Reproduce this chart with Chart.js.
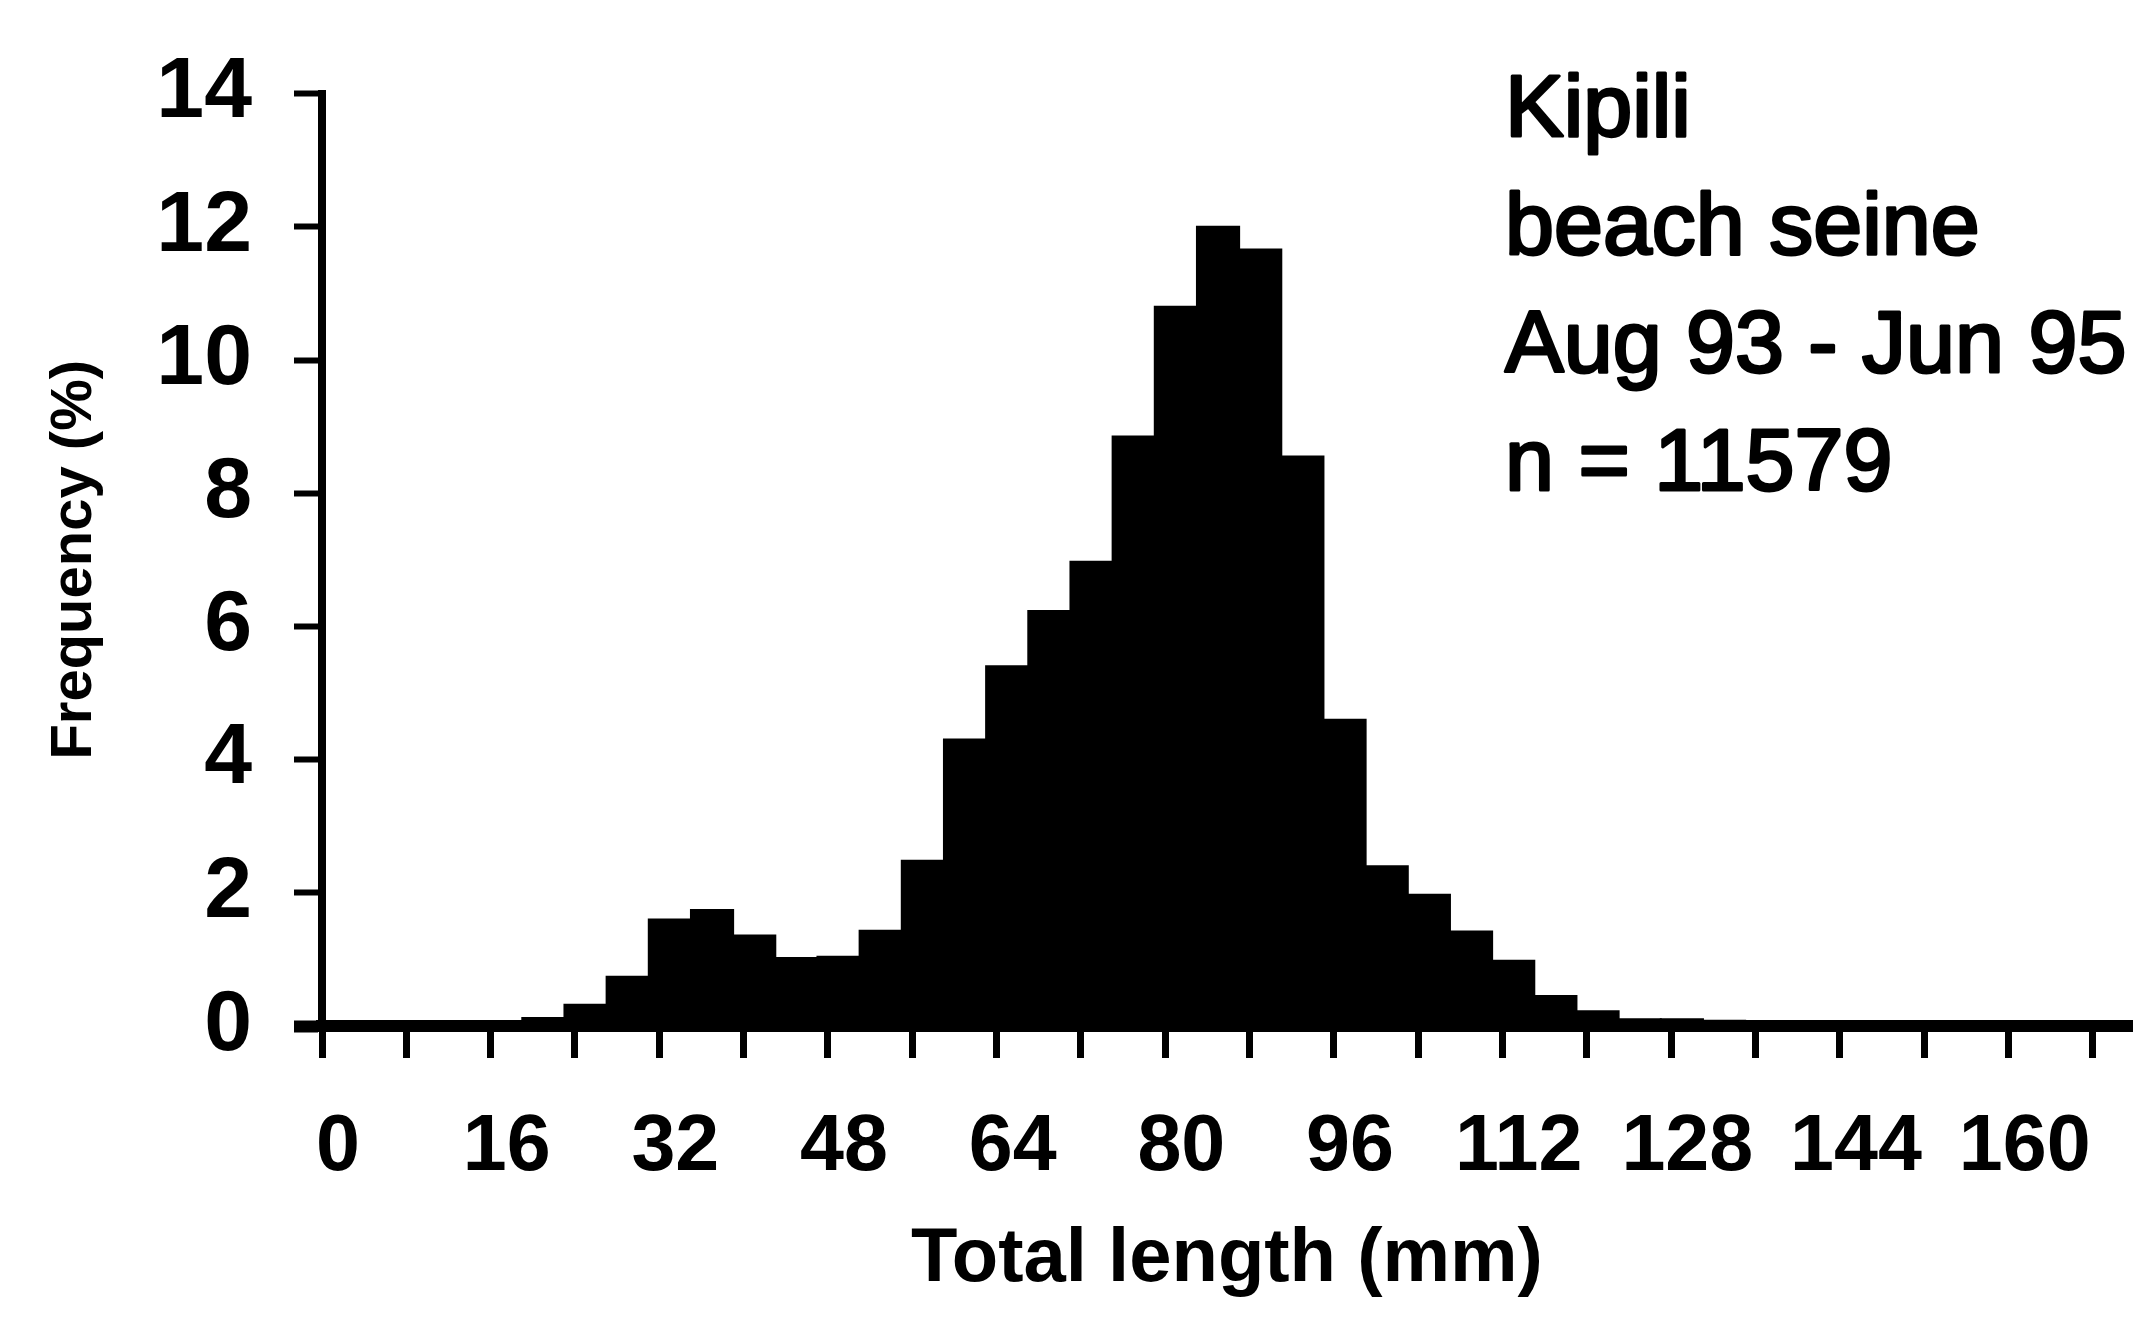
<!DOCTYPE html>
<html>
<head>
<meta charset="utf-8">
<title>Kipili beach seine - length frequency</title>
<script src="https://cdn.jsdelivr.net/npm/chart.js@4/dist/chart.umd.min.js"></script>
<style>
  html, body { margin: 0; padding: 0; background: #fff; }
  canvas { display: block; }
</style>
</head>
<body>
<canvas id="histograma" width="2155" height="1321"></canvas>
<script>
// length classes: centre of each 4 mm bin (mm)
const lengthBins = [5, 9, 13, 17, 21, 25, 29, 33, 37, 41, 45, 49, 53, 57, 61, 65, 69, 73, 77, 81, 85,
  89, 93, 97, 101, 105, 109, 113, 117, 121, 125, 129, 133, 137, 141, 145, 149, 153, 157, 161, 165, 169];
// share of the catch in each class (%)
const frequencyPct = [0.06, 0.03, 0.03, 0.05, 0.12, 0.32, 0.74, 1.6, 1.74, 1.36, 1.02, 1.04, 1.43, 2.48, 4.3, 5.4, 6.23, 6.97, 8.85, 10.8, 12.0,
  11.66, 8.55, 4.6, 2.4, 1.97, 1.42, 0.98, 0.45, 0.22, 0.1, 0.1, 0.08, 0.05, 0.04, 0.04, 0.03, 0.03, 0.03, 0.03, 0.03, 0.03];

// tick marks every 8 mm, numbers only every 16 mm
const xTickValues = [0, 8, 16, 24, 32, 40, 48, 56, 64, 72, 80, 88, 96, 104, 112, 120, 128, 136, 144, 152, 160, 168];
const xTickLabels = [0, 16, 32, 48, 64, 80, 96, 112, 128, 144, 160];
const yTickValues = [0, 2, 4, 6, 8, 10, 12, 14];

const infoLines = ['Kipili', 'beach seine', 'Aug 93 - Jun 95', 'n = 11579'];

const FONT = '"Liberation Sans", Arial, Helvetica, sans-serif';

// sample details written at the top right
const infoText = {
  id: 'infoText',
  afterDraw(chart) {
    const ctx = chart.ctx;
    ctx.save();
    ctx.font = `88px ${FONT}`;
    ctx.fillStyle = '#000';
    ctx.strokeStyle = '#000';
    ctx.lineWidth = 3;
    ctx.lineJoin = 'round';
    ctx.textAlign = 'left';
    ctx.textBaseline = 'alphabetic';
    infoLines.forEach((line, i) => {
      const y = 136 + i * 118;
      ctx.strokeText(line, 1505, y);
      ctx.fillText(line, 1505, y);
    });
    ctx.restore();
  }
};

new Chart(document.getElementById('histograma'), {
  type: 'bar',
  data: {
    datasets: [{
      label: 'Frequency (%)',
      data: lengthBins.map((x, i) => ({ x, y: frequencyPct[i] })),
      backgroundColor: '#000',
      borderWidth: 0,
      inflateAmount: 1,
      barPercentage: 1,
      categoryPercentage: 1,
      grouped: false
    }]
  },
  options: {
    responsive: false,
    animation: false,
    layout: { padding: { top: 86, right: 23, bottom: 0, left: 0 } },
    plugins: {
      legend: { display: false },
      tooltip: { enabled: false }
    },
    scales: {
      x: {
        type: 'linear',
        min: 0,
        max: 171.7,
        offset: false,
        border: { color: '#000', width: 12 },
        grid: {
          offset: false,
          drawOnChartArea: false,
          color: '#000',
          tickColor: '#000',
          tickLength: 32,
          tickWidth: 7
        },
        ticks: {
          autoSkip: false,
          maxRotation: 0,
          minRotation: 0,
          labelOffset: 16,
          padding: 43,
          color: '#000',
          font: { family: FONT, size: 79, weight: 'bold' },
          callback: (v) => xTickLabels.includes(v) ? String(v) : ''
        },
        afterBuildTicks: (scale) => { scale.ticks = xTickValues.map(value => ({ value })); },
        afterFit: (scale) => { scale.height = 295; },
        title: {
          display: true,
          text: 'Total length (mm)',
          color: '#000',
          font: { family: FONT, size: 76, weight: 'bold' },
          padding: { top: 0, bottom: 15 }
        }
      },
      y: {
        min: 0,
        max: 14,
        border: { color: '#000', width: 8 },
        grid: {
          drawOnChartArea: false,
          color: '#000',
          tickColor: '#000',
          tickLength: 28,
          tickWidth: (ctx) => (ctx.tick && ctx.tick.value === 0) ? 12 : 6
        },
        ticks: {
          padding: 42,
          color: '#000',
          font: { family: FONT, size: 86, weight: 'bold' }
        },
        afterBuildTicks: (scale) => { scale.ticks = yTickValues.map(value => ({ value })); },
        afterFit: (scale) => { scale.width = 322; },
        title: {
          display: true,
          text: 'Frequency (%)',
          color: '#000',
          font: { family: FONT, size: 58, weight: 'bold' },
          padding: { top: 40, bottom: 0 }
        }
      }
    }
  },
  plugins: [infoText]
});
</script>
</body>
</html>
